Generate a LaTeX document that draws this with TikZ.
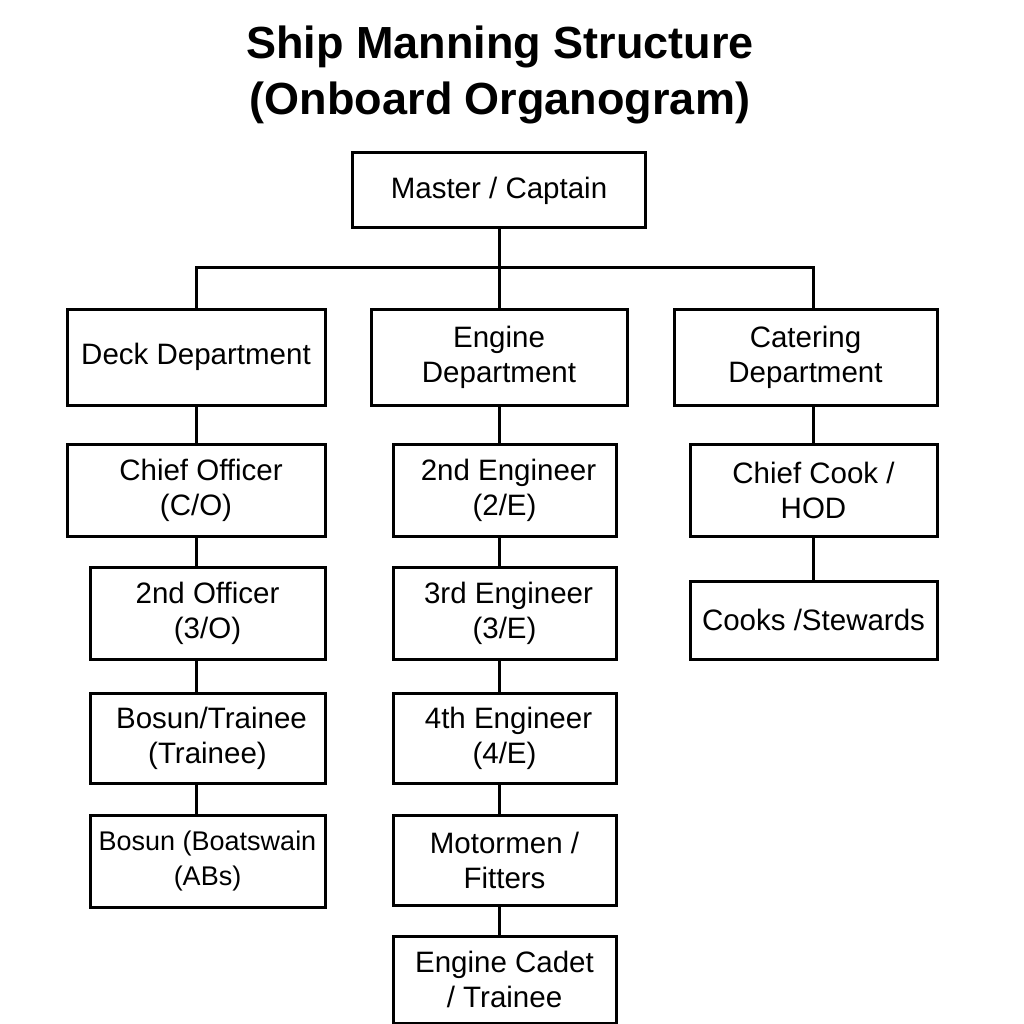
\documentclass[tikz,border=0pt]{standalone}
\usepackage{fontspec}
\setmainfont{Liberation Sans}
\begin{document}
\begin{tikzpicture}[x=1pt,y=-1pt,
  box/.style={draw,line width=3pt,inner sep=0pt,align=center,
    font=\fontsize{29.5}{35}\selectfont},
  conn/.style={line width=3pt},
  titletext/.style={align=center,font=\bfseries\fontsize{45}{56}\selectfont}]
\useasboundingbox[fill=white] (0,0) rectangle (1024,1024);
\node[titletext] (title) at (500,75) {Ship Manning Structure\\(Onboard Organogram)};
\node[box,minimum width=293,minimum height=75] (master) at (499,190.5) {Master / Captain};
\node[box,minimum width=258,minimum height=96] (deck) at (196,357) {Deck Department};
\node[box,minimum width=256,minimum height=96] (eng) at (499,357) {Engine\\Department};
\node[box,minimum width=263,minimum height=96] (cat) at (805.5,357) {Catering\\Department};
% deck column
\node[box,minimum width=258,minimum height=92] (co) at (196,490) {\hspace*{10pt}Chief Officer\\(C/O)};
\node[box,minimum width=235,minimum height=92] (so) at (207.5,613) {2nd Officer\\(3/O)};
\node[box,minimum width=235,minimum height=90] (bt) at (207.5,738) {\hspace*{8pt}Bosun/Trainee\\(Trainee)};
\node[box,minimum width=235,minimum height=92,font=\fontsize{27}{35}\selectfont] (bb) at (207.5,861) {Bosun (Boatswain\\(ABs)};
% engine column
\node[box,minimum width=223,minimum height=92] (e2) at (504.5,490) {\hspace*{8pt}2nd Engineer\\(2/E)};
\node[box,minimum width=223,minimum height=92] (e3) at (504.5,613) {\hspace*{8pt}3rd Engineer\\(3/E)};
\node[box,minimum width=223,minimum height=90] (e4) at (504.5,738) {\hspace*{8pt}4th Engineer\\(4/E)};
\node[box,minimum width=223,minimum height=90] (mf) at (504.5,860) {Motormen /\\Fitters};
\node[box,minimum width=223,minimum height=87] (ec) at (504.5,979.5) {Engine Cadet\\/ Trainee};
% catering column
\node[box,minimum width=247,minimum height=92] (cc) at (813.5,490) {Chief Cook /\\HOD};
\node[box,minimum width=247,minimum height=78] (cs) at (813.5,620) {Cooks /Stewards};
% top connectors
\coordinate (bus) at (499,267);
\draw[conn] (master.south) -- (eng.north);
\draw[conn] (deck.north) |- (bus) -| (cc.north |- cat.north);
% deck connectors
\draw[conn] (deck.south) -- (co.north);
\draw[conn] (co.south) -- (co.south |- so.north);
\draw[conn] (co.south |- so.south) -- (co.south |- bt.north);
\draw[conn] (co.south |- bt.south) -- (co.south |- bb.north);
% engine connectors
\draw[conn] (eng.south) -- (eng.south |- e2.north);
\draw[conn] (eng.south |- e2.south) -- (eng.south |- e3.north);
\draw[conn] (eng.south |- e3.south) -- (eng.south |- e4.north);
\draw[conn] (eng.south |- e4.south) -- (eng.south |- mf.north);
\draw[conn] (eng.south |- mf.south) -- (eng.south |- ec.north);
% catering connectors
\draw[conn] (cc.north |- cat.south) -- (cc.north);
\draw[conn] (cc.south) -- (cs.north);
\end{tikzpicture}
\end{document}
